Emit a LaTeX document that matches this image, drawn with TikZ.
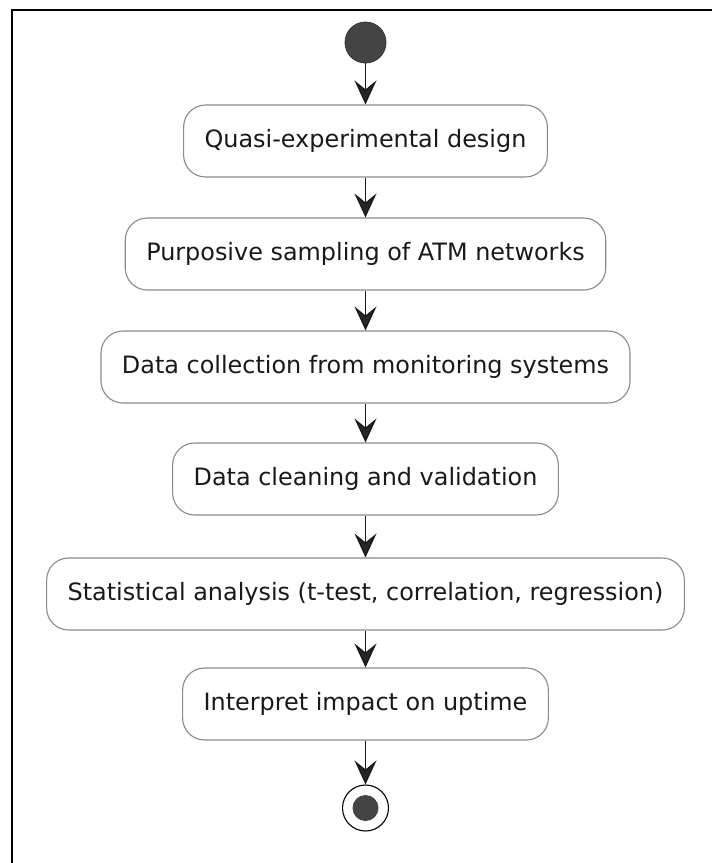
\documentclass[tikz,border=0pt]{standalone}
\usepackage{fontspec}
\setmainfont{DejaVu Sans}
\usetikzlibrary{arrows.meta}
\definecolor{boxline}{HTML}{8A8A8A}
\definecolor{dotfill}{HTML}{444444}
\begin{document}
\begin{tikzpicture}[x=1pt,y=-1pt,
  action/.style={draw=boxline,line width=1.1pt,rounded corners=22pt,fill=white,
    minimum height=72pt,inner xsep=21pt,inner ysep=0pt,
    font=\fontsize{23.9}{28}\selectfont,text=black!90},
  flow/.style={draw=black!90,line width=1.3pt,
    -{Stealth[length=24pt,width=22pt,inset=9pt,fill=black!85]}},
  startdot/.style={circle,fill=dotfill,draw=black!80,line width=0.8pt,
    minimum size=41pt,inner sep=0pt},
  endring/.style={circle,fill=white,draw=black,line width=1.1pt,
    minimum size=46pt,inner sep=0pt},
  enddot/.style={circle,fill=dotfill,minimum size=26pt,inner sep=0pt}]
\useasboundingbox (0,0) rectangle (712,863);
% outer frame (only its top and left edges fall inside the page)
\draw[line width=2pt,black] (712,10) -- (12,10) -- (12,863);

\node[startdot] (start) at (365.5,42.5) {};
\node[action] (a1) at (365.5,141) {Quasi-experimental design};
\node[action] (a2) at (365.5,254) {Purposive sampling of ATM networks};
\node[action] (a3) at (365.5,367) {Data collection from monitoring systems};
\node[action] (a4) at (365.5,479) {Data cleaning and validation};
\node[action] (a5) at (365.5,594) {Statistical analysis (t-test, correlation, regression)};
\node[action] (a6) at (365.5,704) {Interpret impact on uptime};
\node[endring] (stop) at (365.5,808) {};
\node[enddot] (stopdot) at (stop.center) {};

\draw[flow] (start) -- (a1);
\draw[flow] (a1) -- (a2);
\draw[flow] (a2) -- (a3);
\draw[flow] (a3) -- (a4);
\draw[flow] (a4) -- (a5);
\draw[flow] (a5) -- (a6);
\draw[flow] (a6) -- (stop);
\end{tikzpicture}
\end{document}
